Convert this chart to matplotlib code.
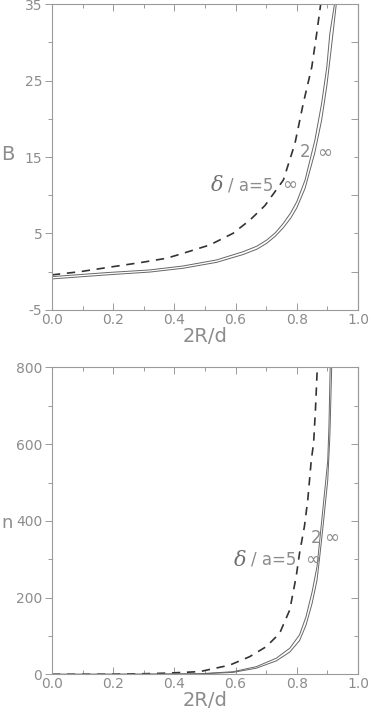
import matplotlib
matplotlib.use("Agg")
import matplotlib.pyplot as plt
from matplotlib.ticker import MultipleLocator

plt.rcParams["axes.unicode_minus"] = False

# top panel: B versus 2R/d
top_dash_x = [0.0, 0.092, 0.2, 0.288, 0.375, 0.429, 0.516, 0.592, 0.647, 0.696,
              0.756, 0.794, 0.821, 0.849, 0.865, 0.878]
top_dash_y = [-0.42, 0.0, 0.66, 1.18, 1.76, 2.41, 3.50, 5.03, 6.76, 8.66,
              11.99, 16.79, 22.0, 26.8, 31.17, 35.0]
top_sol1_x = [0.0, 0.179, 0.32, 0.429, 0.538, 0.625, 0.67, 0.702, 0.73, 0.756,
              0.78, 0.8, 0.827, 0.859, 0.881, 0.898, 0.908, 0.923]
top_sol1_y = [-0.65, -0.12, 0.23, 0.75, 1.54, 2.62, 3.35, 4.15, 5.1, 6.33,
              7.7, 9.16, 12.0, 17.2, 22.0, 26.8, 31.2, 35.0]
top_sol2_x = [0.0, 0.179, 0.32, 0.429, 0.538, 0.625, 0.67, 0.702, 0.73, 0.756,
              0.78, 0.8, 0.827, 0.859, 0.881, 0.898, 0.912, 0.929]
top_sol2_y = [-0.95, -0.42, -0.05, 0.45, 1.22, 2.25, 2.95, 3.72, 4.65, 5.75,
              7.0, 8.35, 10.9, 15.6, 19.8, 24.3, 29.0, 35.0]

# bottom panel
bot_dash_x = [0.0, 0.2, 0.3, 0.374, 0.483, 0.581, 0.646, 0.7, 0.744, 0.777,
              0.798, 0.809, 0.825, 0.836, 0.847, 0.855, 0.861, 0.866, 0.868]
bot_dash_y = [0, 0.3, 1.5, 3, 7, 24, 46, 72, 107, 168,
              255, 316, 386, 456, 556, 604, 691, 782, 800]
bot_sol1_x = [0.0, 0.3, 0.483, 0.592, 0.668, 0.733, 0.777, 0.809, 0.83, 0.85,
              0.866, 0.874, 0.885, 0.901, 0.905, 0.909]
bot_sol1_y = [0, 0.3, 1.5, 6.8, 20, 42, 68, 103, 150, 215,
              281, 342, 429, 556, 647, 800]
bot_sol2_x = [0.0, 0.3, 0.483, 0.592, 0.668, 0.733, 0.777, 0.809, 0.83, 0.85,
              0.866, 0.874, 0.885, 0.901, 0.908, 0.914]
bot_sol2_y = [0, 0.2, 1.0, 5.0, 16, 35, 58, 88, 128, 185,
              245, 300, 380, 505, 620, 800]

line_c = "#666666"
text_c = "#8c8c8c"
axis_c = "#9a9a9a"


def style_axes(ax, ylim, ymaj, ymin):
    ax.set_xlim(0, 1)
    ax.set_ylim(*ylim)
    ax.xaxis.set_major_locator(MultipleLocator(0.2))
    ax.xaxis.set_minor_locator(MultipleLocator(0.1))
    ax.yaxis.set_major_locator(MultipleLocator(ymaj))
    ax.yaxis.set_minor_locator(MultipleLocator(ymin))
    for s in ax.spines.values():
        s.set_color(axis_c)
        s.set_linewidth(0.8)
    ax.tick_params(axis="x", which="both", direction="in", top=True,
                   colors=axis_c, labelcolor=text_c, labelsize=10, pad=2)
    ax.tick_params(axis="y", which="both", direction="out", right=False,
                   colors=axis_c, labelcolor=text_c, labelsize=10, pad=2)
    ax.tick_params(which="major", length=5, width=0.7)
    ax.tick_params(which="minor", length=3, width=0.7)
    ax.xaxis.set_major_formatter(plt.FuncFormatter(lambda v, p: "%.1f" % v))
    # inward ticks on the right side
    sec = ax.secondary_yaxis("right")
    sec.yaxis.set_major_locator(MultipleLocator(ymaj))
    sec.yaxis.set_minor_locator(MultipleLocator(ymin))
    sec.tick_params(which="both", direction="in", colors=axis_c, labelright=False)
    sec.tick_params(which="major", length=5, width=0.7)
    sec.tick_params(which="minor", length=3, width=0.7)
    sec.spines["right"].set_color(axis_c)
    ax.set_xlabel("2R/d", fontsize=14, color=text_c, labelpad=0)


def curve_labels(ax, x5, y5, xinf, x2, y2, xinf2):
    ax.text(x5, y5, "/ a=5", fontsize=12, color=text_c, ha="right", va="center")
    ax.annotate(r"$\delta$", (x5, y5), xytext=(-36, 0), textcoords="offset points",
                fontsize=15, color="#707070", ha="right", va="center",
                math_fontfamily="dejavuserif")
    ax.text(xinf, y5, "\u221e", fontsize=13, color=text_c, ha="center", va="center")
    ax.text(x2, y2, "2", fontsize=12, color=text_c, ha="center", va="center")
    ax.text(xinf2, y2, "\u221e", fontsize=13, color=text_c, ha="center", va="center")


fig = plt.figure(figsize=(3.71, 7.14), dpi=100)

ax1 = fig.add_axes([0.140, 0.566, 0.825, 0.428])
ax1.plot(top_dash_x, top_dash_y, color="#333333", lw=1.2, ls=(0, (5, 4)))
ax1.plot(top_sol1_x, top_sol1_y, color=line_c, lw=0.7)
ax1.plot(top_sol2_x, top_sol2_y, color=line_c, lw=0.7)
style_axes(ax1, (-5, 35), 10, 5)
ax1.set_yticks([-5, 5, 15, 25, 35])
curve_labels(ax1, 0.725, 11.3, 0.775, 0.827, 15.6, 0.892)
fig.text(0.022, 1 - 155 / 714, "B", fontsize=14, color=text_c, ha="center", va="center")

ax2 = fig.add_axes([0.140, 0.0556, 0.825, 0.4297])
ax2.plot(bot_dash_x, bot_dash_y, color="#333333", lw=1.2, ls=(0, (5, 4)))
ax2.plot(bot_sol1_x, bot_sol1_y, color=line_c, lw=0.7)
ax2.plot(bot_sol2_x, bot_sol2_y, color=line_c, lw=0.7)
style_axes(ax2, (0, 800), 200, 100)
curve_labels(ax2, 0.80, 299, 0.85, 0.862, 355, 0.915)
fig.text(0.003, 1 - 523 / 714, "n", fontsize=13, color=text_c, ha="left", va="center")

fig.savefig("out.png", dpi=100)
